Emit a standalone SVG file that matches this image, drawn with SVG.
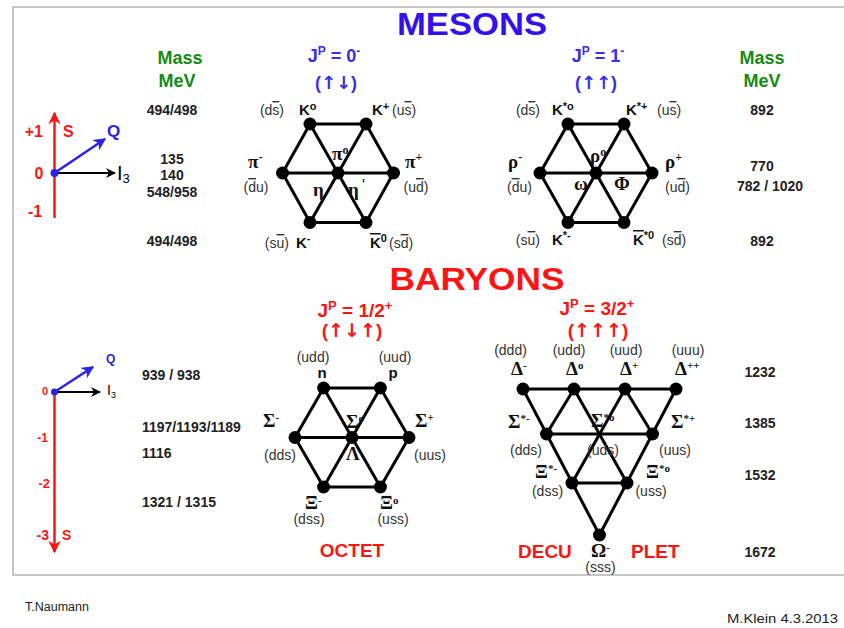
<svg xmlns="http://www.w3.org/2000/svg" width="844" height="628" viewBox="0 0 844 628">
<defs>
<style>
.q{font-family:"Liberation Sans",Arial,sans-serif;font-size:14px;fill:#333}
.b{font-family:"Liberation Sans",Arial,sans-serif;font-weight:bold;font-size:15px;fill:#111}
.g{font-family:"Liberation Serif","Times New Roman",serif;font-weight:bold;font-size:19px;fill:#111}
.m{font-family:"Liberation Sans",Arial,sans-serif;font-weight:bold;font-size:14px;fill:#222}
.gr{font-family:"Liberation Sans",Arial,sans-serif;font-weight:bold;font-size:18px;fill:#158a15}
.jb{font-family:"Liberation Sans","DejaVu Sans",sans-serif;font-weight:bold;font-size:18px;fill:#3a2ee8}
.jr{font-family:"Liberation Sans","DejaVu Sans",sans-serif;font-weight:bold;font-size:19px;fill:#ff1414}
.arw{font-family:"DejaVu Sans",sans-serif;font-weight:bold}
.ra{font-family:"Liberation Sans",Arial,sans-serif;font-weight:bold;fill:#ff1414}
.ln{stroke:#000;stroke-width:3;fill:none;stroke-linecap:round}
.dot{fill:#000}
.ov{text-decoration:overline}
.ft{font-family:"Liberation Sans",Arial,sans-serif;font-size:12.5px;fill:#222}
</style>
<marker id="arR" viewBox="0 0 10 10" refX="9" refY="5" markerWidth="5" markerHeight="5" orient="auto" markerUnits="strokeWidth"><path d="M0,0 L10,5 L0,10 L3,5 z" fill="#ff1414"/></marker>
<marker id="arB" viewBox="0 0 10 10" refX="9" refY="5" markerWidth="5" markerHeight="5" orient="auto" markerUnits="strokeWidth"><path d="M0,0 L10,5 L0,10 L3,5 z" fill="#2a22e6"/></marker>
<marker id="arK" viewBox="0 0 10 10" refX="9" refY="5" markerWidth="5" markerHeight="5" orient="auto" markerUnits="strokeWidth"><path d="M0,0 L10,5 L0,10 L3,5 z" fill="#000"/></marker>
</defs>
<rect x="0" y="0" width="844" height="628" fill="#fff"/>
<rect x="13" y="7" width="840" height="568" fill="none" stroke="#b4b4b4" stroke-width="1.5"/>

<!-- Titles -->
<text x="472" y="35" text-anchor="middle" textLength="150" lengthAdjust="spacingAndGlyphs" style="font-family:'Liberation Sans',Arial,sans-serif;font-weight:bold;font-size:32px;fill:#3311ee">MESONS</text>
<text x="477" y="290" text-anchor="middle" textLength="175" lengthAdjust="spacingAndGlyphs" style="font-family:'Liberation Sans',Arial,sans-serif;font-weight:bold;font-size:31px;fill:#ff1414">BARYONS</text>

<!-- Mass headings -->
<text class="gr" x="180" y="64" text-anchor="middle">Mass</text>
<text class="gr" x="177" y="87" text-anchor="middle">MeV</text>
<text class="gr" x="762" y="64" text-anchor="middle">Mass</text>
<text class="gr" x="762" y="87" text-anchor="middle">MeV</text>

<!-- meson masses -->
<g id="meson-masses">
<text class="m" x="172" y="115" text-anchor="middle">494/498</text>
<text class="m" x="172" y="164" text-anchor="middle">135</text>
<text class="m" x="172" y="180" text-anchor="middle">140</text>
<text class="m" x="172" y="197" text-anchor="middle">548/958</text>
<text class="m" x="172" y="246" text-anchor="middle">494/498</text>
<text class="m" x="762" y="115" text-anchor="middle">892</text>
<text class="m" x="762" y="171" text-anchor="middle">770</text>
<text class="m" x="770" y="191" text-anchor="middle">782 / 1020</text>
<text class="m" x="762" y="246" text-anchor="middle">892</text>
</g>

<!-- baryon masses -->
<g id="baryon-masses">
<text class="m" x="142" y="380">939 / 938</text>
<text class="m" x="142" y="432">1197/1193/1189</text>
<text class="m" x="142" y="458">1116</text>
<text class="m" x="142" y="507">1321 / 1315</text>
<text class="m" x="760" y="377" text-anchor="middle">1232</text>
<text class="m" x="760" y="428" text-anchor="middle">1385</text>
<text class="m" x="760" y="480" text-anchor="middle">1532</text>
<text class="m" x="760" y="557" text-anchor="middle">1672</text>
</g>

<!-- axes top -->
<g id="axes-meson">
<line x1="54.5" y1="218" x2="54.5" y2="113" stroke="#ff1414" stroke-width="2.5" marker-end="url(#arR)"/>
<line x1="54.5" y1="173" x2="115" y2="173" stroke="#000" stroke-width="2" marker-end="url(#arK)"/>
<line x1="54.5" y1="173" x2="105" y2="139" stroke="#2a22e6" stroke-width="2.5" marker-end="url(#arB)"/>
<circle cx="54.5" cy="173" r="4" fill="#2a22e6"/>
<text class="ra" x="43" y="137" text-anchor="end" font-size="16">+1</text>
<text class="ra" x="63" y="137" font-size="16">S</text>
<text class="ra" x="39" y="179" text-anchor="middle" font-size="16">0</text>
<text class="ra" x="28" y="217" font-size="16">-1</text>
<text x="107" y="137" style="font-family:'Liberation Sans',Arial,sans-serif;font-weight:bold;font-size:17px;fill:#2a22e6">Q</text>
<text x="117" y="180" style="font-family:'Liberation Sans',Arial,sans-serif;font-size:20px;fill:#000">I<tspan font-size="13" dy="3">3</tspan></text>
</g>

<!-- axes bottom -->
<g id="axes-baryon">
<line x1="54.5" y1="392" x2="54.5" y2="552" stroke="#ff1414" stroke-width="2.5" marker-end="url(#arR)"/>
<line x1="54.5" y1="392" x2="100" y2="392" stroke="#000" stroke-width="2" marker-end="url(#arK)"/>
<line x1="54.5" y1="392" x2="93" y2="367" stroke="#2a22e6" stroke-width="2.5" marker-end="url(#arB)"/>
<circle cx="54.5" cy="392" r="3.5" fill="#2a22e6"/>
<text class="ra" x="45" y="395" text-anchor="middle" font-size="11">0</text>
<text class="ra" x="48" y="442" text-anchor="end" font-size="12">-1</text>
<text class="ra" x="50" y="488" text-anchor="end" font-size="13">-2</text>
<text class="ra" x="49" y="540" text-anchor="end" font-size="14">-3</text>
<text class="ra" x="62" y="540" font-size="14">S</text>
<text x="106" y="363" style="font-family:'Liberation Sans',Arial,sans-serif;font-weight:bold;font-size:12px;fill:#2a22e6">Q</text>
<text x="107" y="395" style="font-family:'Liberation Sans',Arial,sans-serif;font-size:14px;fill:#000">I<tspan font-size="9" dy="3">3</tspan></text>
</g>

<!-- connectors -->
<g id="connectors">
<polygon class="ln" points="310,124 366,124 393.5,173 366,222.5 310,222.5 282.5,173"/>
<line class="ln" x1="282.5" y1="173" x2="393.5" y2="173"/>
<line class="ln" x1="310" y1="124" x2="366" y2="222.5"/>
<line class="ln" x1="366" y1="124" x2="310" y2="222.5"/>
<polygon class="ln" points="568,124 624,124 652,173 624,222.5 568,222.5 540,173"/>
<line class="ln" x1="540" y1="173" x2="652" y2="173"/>
<line class="ln" x1="568" y1="124" x2="624" y2="222.5"/>
<line class="ln" x1="624" y1="124" x2="568" y2="222.5"/>
<polygon class="ln" points="323.6,388 380.4,388 409,437.5 380.4,487 323.6,487 295,437.5"/>
<line class="ln" x1="295" y1="437.5" x2="409" y2="437.5"/>
<line class="ln" x1="323.6" y1="388" x2="380.4" y2="487"/>
<line class="ln" x1="380.4" y1="388" x2="323.6" y2="487"/>
<polygon class="ln" points="523,389 676,389 599.5,535"/>
<line class="ln" x1="546.5" y1="434" x2="652.5" y2="434"/>
<line class="ln" x1="572" y1="483" x2="627" y2="483"/>
<line class="ln" x1="574" y1="389" x2="546.5" y2="434"/>
<line class="ln" x1="625" y1="389" x2="652.5" y2="434"/>
<line class="ln" x1="574" y1="389" x2="627" y2="483"/>
<line class="ln" x1="625" y1="389" x2="572" y2="483"/>
</g>

<!-- Pseudoscalar mesons -->
<text class="jb" x="334" y="62" text-anchor="middle">J<tspan font-size="12" dy="-7">P</tspan><tspan dy="7"> = 0</tspan><tspan font-size="12" dy="-7">-</tspan></text>
<text class="jb" x="336" y="89" text-anchor="middle">(<tspan class="arw">↑↓</tspan>)</text>
<g id="K0"><circle class="dot" cx="310" cy="124" r="6.5"/><text class="q" x="284" y="115" text-anchor="end">(d<tspan class="ov">s</tspan>)</text><text class="b" x="299" y="115">K<tspan font-size="11" dy="-5">o</tspan></text></g>
<g id="Kplus"><circle class="dot" cx="366" cy="124" r="6.5"/><text class="b" x="372" y="115">K<tspan font-size="11" dy="-5">+</tspan></text><text class="q" x="392" y="115">(u<tspan class="ov">s</tspan>)</text></g>
<g id="piminus"><circle class="dot" cx="282.5" cy="173" r="6.5"/><text class="g" x="248" y="168">π<tspan font-size="12" dy="-7">-</tspan></text><text class="q" x="256" y="192" text-anchor="middle">(<tspan class="ov">d</tspan>u)</text></g>
<g id="pi0eta"><circle class="dot" cx="338" cy="173" r="6.5"/><text class="g" x="332" y="160">π<tspan font-size="12" dy="-6">o</tspan></text><text class="g" x="313" y="196" font-size="18">η</text><text class="g" x="348" y="196" font-size="18">η</text><text x="362" y="191" style="font-family:'Liberation Sans',Arial,sans-serif;font-size:16px;fill:#111">'</text></g>
<g id="piplus"><circle class="dot" cx="393.5" cy="173" r="6.5"/><text class="g" x="405" y="168">π<tspan font-size="12" dy="-7">+</tspan></text><text class="q" x="416" y="192" text-anchor="middle">(u<tspan class="ov">d</tspan>)</text></g>
<g id="Kminus"><circle class="dot" cx="310" cy="222.5" r="6.5"/><text class="q" x="289" y="248" text-anchor="end">(s<tspan class="ov">u</tspan>)</text><text class="b" x="296" y="248">K<tspan font-size="11" dy="-6">-</tspan></text></g>
<g id="K0bar"><circle class="dot" cx="366" cy="222.5" r="6.5"/><text class="b" x="370" y="248"><tspan class="ov">K</tspan><tspan font-size="11" dy="-6">0</tspan></text><text class="q" x="389" y="248">(s<tspan class="ov">d</tspan>)</text></g>

<!-- Vector mesons -->
<text class="jb" x="598" y="62" text-anchor="middle">J<tspan font-size="12" dy="-7">P</tspan><tspan dy="7"> = 1</tspan><tspan font-size="12" dy="-7">-</tspan></text>
<text class="jb" x="596" y="89" text-anchor="middle">(<tspan class="arw">↑↑</tspan>)</text>
<g id="Kstar0"><circle class="dot" cx="568" cy="124" r="6.5"/><text class="q" x="540" y="115" text-anchor="end">(d<tspan class="ov">s</tspan>)</text><text class="b" x="552" y="115">K<tspan font-size="11" dy="-5">*o</tspan></text></g>
<g id="Kstarplus"><circle class="dot" cx="624" cy="124" r="6.5"/><text class="b" x="626" y="115">K<tspan font-size="11" dy="-5">*+</tspan></text><text class="q" x="657" y="115">(u<tspan class="ov">s</tspan>)</text></g>
<g id="rhominus"><circle class="dot" cx="540" cy="173" r="6.5"/><text class="g" x="508" y="168">ρ<tspan font-size="12" dy="-7">-</tspan></text><text class="q" x="519.5" y="192" text-anchor="middle">(<tspan class="ov">d</tspan>u)</text></g>
<g id="rho0omegaphi"><circle class="dot" cx="596" cy="173" r="6.5"/><text class="g" x="590" y="162">ρ<tspan font-size="12" dy="-6">o</tspan></text><text class="g" x="574" y="190" font-size="18">ω</text><text class="g" x="614" y="190" font-size="18">Φ</text></g>
<g id="rhoplus"><circle class="dot" cx="652" cy="173" r="6.5"/><text class="g" x="665" y="168">ρ<tspan font-size="12" dy="-7">+</tspan></text><text class="q" x="677.5" y="192" text-anchor="middle">(u<tspan class="ov">d</tspan>)</text></g>
<g id="Kstarminus"><circle class="dot" cx="568" cy="222.5" r="6.5"/><text class="q" x="540" y="245" text-anchor="end">(s<tspan class="ov">u</tspan>)</text><text class="b" x="552" y="245">K<tspan font-size="11" dy="-6">*-</tspan></text></g>
<g id="Kstar0bar"><circle class="dot" cx="624" cy="222.5" r="6.5"/><text class="b" x="633" y="245"><tspan class="ov">K</tspan><tspan font-size="11" dy="-6">*0</tspan></text><text class="q" x="662" y="245">(s<tspan class="ov">d</tspan>)</text></g>

<!-- Baryon octet -->
<text class="jr" x="355" y="317" text-anchor="middle">J<tspan font-size="13" dy="-7">P</tspan><tspan dy="7"> = 1/2</tspan><tspan font-size="13" dy="-7">+</tspan></text>
<text class="jr" x="352" y="337" text-anchor="middle">(<tspan class="arw">↑↓↑</tspan>)</text>
<g id="n"><circle class="dot" cx="323.6" cy="388" r="6.5"/><text class="q" x="313" y="362" text-anchor="middle">(udd)</text><text class="b" x="322" y="378" text-anchor="middle" font-size="16">n</text></g>
<g id="p"><circle class="dot" cx="380.4" cy="388" r="6.5"/><text class="q" x="395" y="362" text-anchor="middle">(uud)</text><text class="b" x="393" y="378" text-anchor="middle" font-size="16">p</text></g>
<g id="Sigmaminus"><circle class="dot" cx="295" cy="437.5" r="6.5"/><text class="g" x="263" y="427" font-size="17">Σ<tspan font-size="11" dy="-6">-</tspan></text><text class="q" x="280" y="460" text-anchor="middle">(dds)</text></g>
<g id="Sigma0Lambda"><circle class="dot" cx="352" cy="437.5" r="6.5"/><text class="g" x="346" y="428" font-size="17">Σ<tspan font-size="11" dy="-6">o</tspan></text><text class="g" x="346" y="460" font-size="17">Λ</text></g>
<g id="Sigmaplus"><circle class="dot" cx="409" cy="437.5" r="6.5"/><text class="g" x="415" y="427" font-size="17">Σ<tspan font-size="11" dy="-6">+</tspan></text><text class="q" x="430" y="460" text-anchor="middle">(uus)</text></g>
<g id="Ximinus"><circle class="dot" cx="323.6" cy="487" r="6.5"/><text class="g" x="305" y="509" font-size="15">Ξ<tspan font-size="11" dy="-5">-</tspan></text><text class="q" x="309" y="524" text-anchor="middle" font-size="13.5">(dss)</text></g>
<g id="Xi0"><circle class="dot" cx="380.4" cy="487" r="6.5"/><text class="g" x="380" y="509" font-size="15">Ξ<tspan font-size="11" dy="-5">o</tspan></text><text class="q" x="393" y="524" text-anchor="middle" font-size="13.5">(uss)</text></g>
<text class="jr" x="352" y="557" text-anchor="middle">OCTET</text>

<!-- Baryon decuplet -->
<text class="jr" x="597" y="315" text-anchor="middle">J<tspan font-size="13" dy="-7">P</tspan><tspan dy="7"> = 3/2</tspan><tspan font-size="13" dy="-7">+</tspan></text>
<text class="jr" x="598" y="337" text-anchor="middle">(<tspan class="arw">↑↑↑</tspan>)</text>
<g id="Deltaminus"><circle class="dot" cx="523" cy="389" r="6.5"/><text class="q" x="510.5" y="355" text-anchor="middle">(ddd)</text><text class="g" x="511" y="375" font-size="17">Δ<tspan font-size="11" dy="-6">-</tspan></text></g>
<g id="Delta0"><circle class="dot" cx="574" cy="389" r="6.5"/><text class="q" x="569" y="355" text-anchor="middle">(udd)</text><text class="g" x="566" y="375" font-size="17">Δ<tspan font-size="11" dy="-6">o</tspan></text></g>
<g id="Deltaplus"><circle class="dot" cx="625" cy="389" r="6.5"/><text class="q" x="626" y="355" text-anchor="middle">(uud)</text><text class="g" x="620" y="375" font-size="17">Δ<tspan font-size="11" dy="-6">+</tspan></text></g>
<g id="Deltaplusplus"><circle class="dot" cx="676" cy="389" r="6.5"/><text class="q" x="688" y="355" text-anchor="middle">(uuu)</text><text class="g" x="675" y="375" font-size="17">Δ<tspan font-size="11" dy="-6">++</tspan></text></g>
<g id="Sigmastarminus"><circle class="dot" cx="546.5" cy="434" r="6.5"/><text class="g" x="508" y="428" font-size="17">Σ<tspan font-size="11" dy="-6">*-</tspan></text><text class="q" x="526" y="455" text-anchor="middle">(dds)</text></g>
<g id="Sigmastar0"><text class="g" x="591" y="427" font-size="17">Σ<tspan font-size="11" dy="-6">*o</tspan></text><text class="q" x="603" y="455" text-anchor="middle">(uds)</text></g>
<g id="Sigmastarplus"><circle class="dot" cx="652.5" cy="434" r="6.5"/><text class="g" x="671" y="428" font-size="17">Σ<tspan font-size="11" dy="-6">*+</tspan></text><text class="q" x="675" y="455" text-anchor="middle">(uus)</text></g>
<g id="Xistarminus"><circle class="dot" cx="572" cy="483" r="6.5"/><text class="g" x="535" y="478" font-size="16">Ξ<tspan font-size="11" dy="-6">*-</tspan></text><text class="q" x="547.5" y="496" text-anchor="middle">(dss)</text></g>
<g id="Xistar0"><circle class="dot" cx="627" cy="483" r="6.5"/><text class="g" x="646" y="478" font-size="16">Ξ<tspan font-size="11" dy="-6">*o</tspan></text><text class="q" x="651" y="496" text-anchor="middle">(uss)</text></g>
<g id="Omegaminus"><circle class="dot" cx="599.5" cy="535" r="6.5"/><text class="g" x="591" y="557" font-size="16">Ω<tspan font-size="11" dy="-6">-</tspan></text><text class="q" x="600.5" y="572" text-anchor="middle" font-size="12">(sss)</text></g>
<text class="jr" x="518" y="558" font-size="20">DECU</text>
<text class="jr" x="631" y="558" font-size="20">PLET</text>

<!-- footer -->
<text class="ft" x="25" y="611">T.Naumann</text>
<text class="ft" x="838" y="623" text-anchor="end" font-size="15" textLength="111" lengthAdjust="spacingAndGlyphs">M.Klein 4.3.2013</text>
</svg>
